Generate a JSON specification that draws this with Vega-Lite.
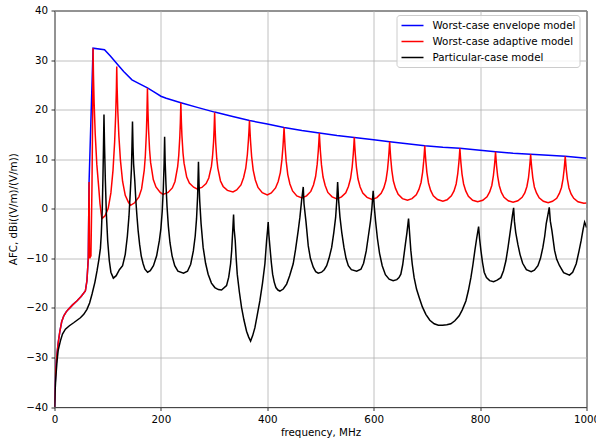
{
  "$schema": "https://vega.github.io/schema/vega-lite/v6.json",
  "autosize": {"type": "none"},
  "width": 532,
  "height": 396.5,
  "padding": {"left": 54.5, "top": 10.5, "right": 9, "bottom": 34},
  "background": "white",
  "config": {
    "font": "DejaVu Sans",
    "view": {"stroke": "black", "strokeWidth": 1},
    "axis": {
      "labelFont": "DejaVu Sans", "titleFont": "DejaVu Sans",
      "labelFontSize": 10.3, "titleFontSize": 10.3,
      "labelColor": "black", "titleColor": "black", "titleFontWeight": "normal",
      "tickColor": "black", "tickSize": 3.5, "tickWidth": 0.8,
      "domain": false, "grid": true, "gridColor": "#b0b0b0", "gridWidth": 0.8,
      "labelPadding": 3.5, "labelFlush": false, "labelOverlap": false
    },
    "legend": {"labelFont": "DejaVu Sans", "labelFontSize": 10.3, "labelColor": "black"}
  },
  "datasets": {
    "envelope": [
      {"f":0,"v":-40},{"f":1,"v":-36},{"f":2.5,"v":-32.5},{"f":4.5,"v":-29.5},{"f":7,"v":-27},{"f":10,"v":-24.8},{"f":13.5,"v":-22.8},{"f":17.5,"v":-21.6},{"f":22,"v":-20.8},{"f":27,"v":-20.2},{"f":34,"v":-19.4},{"f":42,"v":-18.6},{"f":50,"v":-17.7},{"f":58,"v":-16.6},{"f":61,"v":-14.5},{"f":63.5,"v":-10},{"f":65,"v":5.4},{"f":72.5,"v":32.4},{"f":94,"v":32.1},{"f":105,"v":30.8},{"f":117,"v":29.3},{"f":130,"v":27.7},{"f":145.6,"v":26.0},{"f":160,"v":25.2},{"f":174.7,"v":24.4},{"f":190,"v":23.4},{"f":200,"v":22.7},{"f":210,"v":22.3},{"f":237.5,"v":21.4},{"f":270,"v":20.4},{"f":301,"v":19.5},{"f":335,"v":18.6},{"f":366.5,"v":17.8},{"f":400,"v":17.1},{"f":431.5,"v":16.4},{"f":465,"v":15.8},{"f":497.8,"v":15.3},{"f":531,"v":14.8},{"f":563.5,"v":14.4},{"f":600,"v":13.9},{"f":630,"v":13.5},{"f":663,"v":13.1},{"f":696,"v":12.7},{"f":730,"v":12.4},{"f":762,"v":12.2},{"f":800,"v":11.8},{"f":829,"v":11.5},{"f":862,"v":11.2},{"f":895,"v":11.0},{"f":928,"v":10.8},{"f":960,"v":10.6},{"f":1000,"v":10.2}
    ],
    "adaptive": [
      {"f":0,"v":-40},{"f":1,"v":-36},{"f":2.5,"v":-32.5},{"f":4.5,"v":-29.5},{"f":7,"v":-27},{"f":10,"v":-24.8},{"f":13.5,"v":-22.8},{"f":17.5,"v":-21.6},{"f":22,"v":-20.8},{"f":27,"v":-20.2},{"f":34,"v":-19.4},{"f":42,"v":-18.6},{"f":50,"v":-17.7},{"f":58,"v":-16.6},{"f":61,"v":-14.5},{"f":63.5,"v":-10},{"f":65,"v":5.4},{"f":66,"v":-10},{"f":68.5,"v":-9.5},{"f":70.5,"v":5},{"f":71.8,"v":20},{"f":72.5,"v":32.4},
      {"f":73.2,"v":27.2},{"f":74.5,"v":21.4},{"f":76.5,"v":15.2},{"f":79.5,"v":9.0},{"f":83.5,"v":3.8},{"f":85.5,"v":1.0},{"f":89,"v":-2.0},
      {"f":95,"v":-1.4},{"f":101,"v":0.1},{"f":106,"v":3.2},{"f":110,"v":7.8},{"f":113,"v":13.4},{"f":115,"v":18.9},{"f":116.3,"v":24.1},{"f":117,"v":28.7},
      {"f":117.7,"v":24.5},{"f":119,"v":19.7},{"f":121,"v":14.7},{"f":124,"v":9.7},{"f":128,"v":5.5},{"f":133,"v":2.7},{"f":139,"v":1.3},{"f":143,"v":0.7},
      {"f":150.7,"v":1.2},{"f":158.7,"v":2.4},{"f":163.7,"v":4.0},{"f":168.7,"v":7.8},{"f":170.7,"v":10.6},{"f":172.7,"v":15.3},{"f":173.7,"v":19.1},{"f":174.7,"v":24.3},
      {"f":175.7,"v":19.6},{"f":176.7,"v":16.2},{"f":178.7,"v":11.9},{"f":180.7,"v":9.3},{"f":185.7,"v":5.9},{"f":190.7,"v":4.4},{"f":198.7,"v":3.3},{"f":204,"v":2.9},
      {"f":213.5,"v":3.3},{"f":221.5,"v":4.2},{"f":226.5,"v":5.5},{"f":231.5,"v":8.5},{"f":233.5,"v":10.7},{"f":235.5,"v":14.4},{"f":236.5,"v":17.3},{"f":237.5,"v":21.4},
      {"f":238.5,"v":17.6},{"f":239.5,"v":14.8},{"f":241.5,"v":11.3},{"f":243.5,"v":9.2},{"f":248.5,"v":6.4},{"f":253.5,"v":5.2},{"f":261.5,"v":4.35},{"f":268,"v":4.0},
      {"f":277,"v":4.3},{"f":285,"v":5.1},{"f":290,"v":6.2},{"f":295,"v":8.6},{"f":297,"v":10.5},{"f":299,"v":13.5},{"f":300,"v":16.0},{"f":301,"v":19.4},
      {"f":302,"v":15.9},{"f":303,"v":13.3},{"f":305,"v":10.1},{"f":307,"v":8.2},{"f":312,"v":5.6},{"f":317,"v":4.5},{"f":325,"v":3.7},{"f":335.5,"v":3.4},
      {"f":342.5,"v":3.8},{"f":350.5,"v":4.8},{"f":355.5,"v":6.3},{"f":359.5,"v":8.2},{"f":362.5,"v":10.9},{"f":364.5,"v":13.8},{"f":365.5,"v":15.6},{"f":366.5,"v":17.8},
      {"f":367.5,"v":15.6},{"f":368.5,"v":13.6},{"f":370.5,"v":10.6},{"f":373.5,"v":7.8},{"f":377.5,"v":5.8},{"f":382.5,"v":4.3},{"f":390.5,"v":3.25},{"f":400,"v":2.8},
      {"f":407.5,"v":3.2},{"f":415.5,"v":4.2},{"f":420.5,"v":5.5},{"f":424.5,"v":7.3},{"f":427.5,"v":9.9},{"f":429.5,"v":12.6},{"f":430.5,"v":14.4},{"f":431.5,"v":16.4},
      {"f":432.5,"v":14.3},{"f":433.5,"v":12.4},{"f":435.5,"v":9.6},{"f":438.5,"v":6.9},{"f":442.5,"v":5.0},{"f":447.5,"v":3.6},{"f":455.5,"v":2.6},{"f":465,"v":2.2},
      {"f":473.8,"v":2.6},{"f":481.8,"v":3.5},{"f":486.8,"v":4.8},{"f":490.8,"v":6.5},{"f":493.8,"v":9.0},{"f":495.8,"v":11.6},{"f":496.8,"v":13.3},{"f":497.8,"v":15.3},
      {"f":498.8,"v":13.3},{"f":499.8,"v":11.6},{"f":501.8,"v":8.9},{"f":504.8,"v":6.4},{"f":508.8,"v":4.7},{"f":513.8,"v":3.3},{"f":521.8,"v":2.4},{"f":531,"v":2.0},
      {"f":539.5,"v":2.4},{"f":547.5,"v":3.2},{"f":552.5,"v":4.5},{"f":556.5,"v":6.1},{"f":559.5,"v":8.4},{"f":561.5,"v":10.9},{"f":562.5,"v":12.5},{"f":563.5,"v":14.4},
      {"f":564.5,"v":12.5},{"f":565.5,"v":10.9},{"f":567.5,"v":8.4},{"f":570.5,"v":6.0},{"f":574.5,"v":4.4},{"f":579.5,"v":3.15},{"f":587.5,"v":2.3},{"f":597,"v":1.9},
      {"f":606,"v":2.25},{"f":614,"v":3.1},{"f":619,"v":4.2},{"f":623,"v":5.7},{"f":626,"v":7.9},{"f":628,"v":10.3},{"f":629,"v":11.8},{"f":630,"v":13.5},
      {"f":631,"v":11.7},{"f":632,"v":10.2},{"f":634,"v":7.8},{"f":637,"v":5.6},{"f":641,"v":4.1},{"f":646,"v":2.9},{"f":654,"v":2.05},{"f":663.5,"v":1.7},
      {"f":672,"v":2.05},{"f":680,"v":2.8},{"f":685,"v":3.9},{"f":689,"v":5.3},{"f":692,"v":7.4},{"f":694,"v":9.6},{"f":695,"v":11.05},{"f":696,"v":12.7},
      {"f":697,"v":11.0},{"f":698,"v":9.6},{"f":700,"v":7.3},{"f":703,"v":5.2},{"f":707,"v":3.7},{"f":712,"v":2.6},{"f":720,"v":1.85},{"f":730,"v":1.5},
      {"f":738,"v":1.8},{"f":746,"v":2.6},{"f":751,"v":3.6},{"f":755,"v":5.0},{"f":758,"v":7.1},{"f":760,"v":9.2},{"f":761,"v":10.6},{"f":762,"v":12.2},
      {"f":763,"v":10.6},{"f":764,"v":9.2},{"f":766,"v":7.0},{"f":769,"v":5.0},{"f":773,"v":3.6},{"f":778,"v":2.5},{"f":786,"v":1.7},{"f":795.5,"v":1.4},
      {"f":805,"v":1.7},{"f":813,"v":2.4},{"f":818,"v":3.4},{"f":822,"v":4.7},{"f":825,"v":6.7},{"f":827,"v":8.7},{"f":828,"v":10.0},{"f":829,"v":11.5},
      {"f":830,"v":10.0},{"f":831,"v":8.6},{"f":833,"v":6.6},{"f":836,"v":4.7},{"f":840,"v":3.3},{"f":845,"v":2.3},{"f":853,"v":1.6},{"f":862,"v":1.3},
      {"f":871,"v":1.6},{"f":879,"v":2.3},{"f":884,"v":3.2},{"f":888,"v":4.5},{"f":891,"v":6.3},{"f":893,"v":8.3},{"f":894,"v":9.5},{"f":895,"v":11.0},
      {"f":896,"v":9.5},{"f":897,"v":8.3},{"f":899,"v":6.3},{"f":902,"v":4.4},{"f":906,"v":3.2},{"f":911,"v":2.2},{"f":919,"v":1.5},{"f":928,"v":1.2},
      {"f":936,"v":1.5},{"f":944,"v":2.1},{"f":949,"v":3.1},{"f":953,"v":4.3},{"f":956,"v":6.1},{"f":958,"v":8.0},{"f":959,"v":9.2},{"f":960,"v":10.6},
      {"f":961,"v":9.2},{"f":962,"v":7.9},{"f":964,"v":6.0},{"f":967,"v":4.2},{"f":971,"v":3.0},{"f":976,"v":2.1},{"f":984,"v":1.4},{"f":995,"v":1.1},{"f":1000,"v":1.15}
    ],
    "particular": [
      {"f":0,"v":-40},{"f":1,"v":-37},{"f":2.5,"v":-34},{"f":4.8,"v":-30.7},{"f":7,"v":-28.5},{"f":11,"v":-26.7},{"f":15,"v":-25.3},{"f":20.5,"v":-24.3},{"f":28,"v":-23.6},{"f":36,"v":-23},{"f":48.7,"v":-22},{"f":55,"v":-21.3},{"f":61,"v":-20.3},{"f":66,"v":-19},{"f":70.6,"v":-17.2},{"f":76,"v":-14.8},{"f":80,"v":-12.5},{"f":83.5,"v":-10.2},{"f":86.3,"v":-8},{"f":88,"v":-5},{"f":89.8,"v":0},{"f":91,"v":6},{"f":92,"v":12},{"f":93,"v":19.0},
      {"f":94,"v":13},{"f":95.5,"v":6},{"f":97.5,"v":-1},{"f":100,"v":-6.5},{"f":103,"v":-10.5},{"f":106,"v":-12.8},{"f":110.6,"v":-14},
      {"f":116,"v":-13.5},{"f":122,"v":-12.3},{"f":128,"v":-11.5},{"f":133,"v":-9.2},{"f":137,"v":-5.5},{"f":140,"v":-1.5},{"f":142.6,"v":3.6},{"f":144.6,"v":8},{"f":145.6,"v":12.5},{"f":146.6,"v":17.6},
      {"f":147.6,"v":12.5},{"f":148.7,"v":9},{"f":150.9,"v":5.7},{"f":153,"v":1.5},{"f":155,"v":-1.5},{"f":157.2,"v":-4.4},{"f":160,"v":-7.2},{"f":163,"v":-9.5},{"f":166.6,"v":-11.1},{"f":170,"v":-12.2},{"f":175,"v":-12.8},
      {"f":180,"v":-12.5},{"f":186,"v":-11.5},{"f":192,"v":-9.5},{"f":197,"v":-6.5},{"f":200,"v":-4},{"f":202.5,"v":-0.5},{"f":204.5,"v":4},{"f":206,"v":9},{"f":207,"v":14.5},
      {"f":208,"v":9.5},{"f":209.5,"v":5},{"f":211.5,"v":0.5},{"f":214,"v":-3.5},{"f":217,"v":-6.8},{"f":221,"v":-9.5},{"f":226,"v":-11.5},{"f":232,"v":-12.6},{"f":242.5,"v":-13},
      {"f":250,"v":-12.6},{"f":256,"v":-11.2},{"f":261,"v":-8.5},{"f":264.5,"v":-5.5},{"f":267,"v":-2},{"f":269,"v":2.5},{"f":270.6,"v":9.5},
      {"f":271.7,"v":5},{"f":273,"v":1.5},{"f":275.5,"v":-3},{"f":279.4,"v":-7.8},{"f":284,"v":-11},{"f":288.8,"v":-13.2},{"f":295,"v":-15},{"f":301.4,"v":-15.9},{"f":308,"v":-16.3},{"f":314,"v":-16.4},
      {"f":323.4,"v":-15.5},{"f":327.5,"v":-13.8},{"f":331,"v":-11.1},{"f":333,"v":-8.5},{"f":334,"v":-6.4},{"f":335.5,"v":-3.5},{"f":336.6,"v":-1.15},
      {"f":337.6,"v":-4},{"f":339.7,"v":-6.4},{"f":341.5,"v":-10},{"f":343.5,"v":-13.2},{"f":347.5,"v":-16.8},{"f":351.6,"v":-19.9},{"f":356,"v":-22.4},{"f":361,"v":-24.7},{"f":365,"v":-25.9},{"f":368.6,"v":-26.7},
      {"f":372.5,"v":-25.6},{"f":376.7,"v":-24},{"f":381,"v":-21.5},{"f":386,"v":-18.6},{"f":391,"v":-15},{"f":395.5,"v":-11.1},{"f":398.7,"v":-6.4},{"f":400.5,"v":-4.3},{"f":401.7,"v":-2.7},
      {"f":403,"v":-5.3},{"f":405,"v":-7.8},{"f":407.5,"v":-10.8},{"f":410,"v":-13.2},{"f":413,"v":-14.8},{"f":416.2,"v":-15.9},{"f":420,"v":-16.4},{"f":423.7,"v":-16.6},
      {"f":430,"v":-16.2},{"f":436.3,"v":-15.2},{"f":442,"v":-13.5},{"f":448.7,"v":-11.1},{"f":453,"v":-8.3},{"f":458.1,"v":-4.4},{"f":461.3,"v":-1.7},{"f":464.5,"v":1.7},{"f":467.6,"v":4.4},
      {"f":469,"v":1},{"f":472.6,"v":-2.5},{"f":477,"v":-7.5},{"f":481,"v":-10},{"f":486.4,"v":-11.8},{"f":491,"v":-12.7},{"f":495.8,"v":-13},
      {"f":502,"v":-12.8},{"f":507,"v":-12.3},{"f":511.6,"v":-11.5},{"f":516,"v":-10},{"f":521,"v":-7.8},{"f":525,"v":-4.8},{"f":528.5,"v":-1.7},{"f":530.5,"v":1.5},{"f":532.2,"v":5.4},
      {"f":534,"v":1.8},{"f":536.6,"v":-1.7},{"f":540,"v":-4.8},{"f":544.1,"v":-7.8},{"f":548,"v":-10},{"f":552.3,"v":-11.5},{"f":558,"v":-12.3},{"f":568,"v":-12.6},
      {"f":576,"v":-12.2},{"f":581,"v":-11},{"f":586,"v":-8.5},{"f":590,"v":-5.5},{"f":594,"v":-2.5},{"f":596.5,"v":0},{"f":599,"v":3.6},
      {"f":601,"v":0.5},{"f":603.5,"v":-2.5},{"f":607,"v":-6},{"f":611,"v":-9},{"f":616,"v":-11.5},{"f":622,"v":-13.3},{"f":629,"v":-14.2},{"f":636.6,"v":-14.5},
      {"f":643.5,"v":-14.3},{"f":647.5,"v":-13.9},{"f":651,"v":-13.2},{"f":654.5,"v":-11.3},{"f":657.2,"v":-9.1},{"f":660,"v":-6.8},{"f":662.5,"v":-4.8},{"f":665.5,"v":-2.0},
      {"f":667.5,"v":-5},{"f":669.8,"v":-8.4},{"f":672.5,"v":-11.2},{"f":676,"v":-13.9},{"f":680.5,"v":-16.2},{"f":685.5,"v":-17.9},{"f":691.5,"v":-19.8},{"f":698,"v":-21.3},{"f":705.5,"v":-22.5},{"f":713.7,"v":-23.2},{"f":721.5,"v":-23.5},{"f":729.5,"v":-23.5},{"f":737.5,"v":-23.4},{"f":745,"v":-23.2},{"f":752.5,"v":-22.6},{"f":760.7,"v":-21.6},{"f":766.5,"v":-20.4},{"f":773.3,"v":-18.6},{"f":778,"v":-16.5},{"f":782.7,"v":-13.9},{"f":786.5,"v":-11.3},{"f":790.2,"v":-8.4},{"f":793.5,"v":-6},{"f":797.2,"v":-3.6},
      {"f":799,"v":-6},{"f":801.5,"v":-8.4},{"f":804.5,"v":-10.8},{"f":807.7,"v":-12.8},{"f":812,"v":-13.9},{"f":818,"v":-14.5},{"f":825.4,"v":-14.7},
      {"f":832,"v":-14.4},{"f":839,"v":-13.9},{"f":844,"v":-12.5},{"f":848.5,"v":-10.5},{"f":852.5,"v":-7.8},{"f":856,"v":-5.1},{"f":859,"v":-2.8},{"f":861,"v":-1.2},{"f":863,"v":0.2},
      {"f":864.5,"v":-2.5},{"f":867,"v":-4.8},{"f":871,"v":-7.2},{"f":875,"v":-9.2},{"f":880,"v":-11},{"f":887,"v":-12.3},{"f":896,"v":-12.7},
      {"f":902,"v":-12.4},{"f":908.7,"v":-11.5},{"f":913.5,"v":-10},{"f":918,"v":-7.8},{"f":921.5,"v":-5.5},{"f":924.3,"v":-3.0},{"f":927,"v":-1.5},{"f":930,"v":0.3},
      {"f":932,"v":-2.5},{"f":935,"v":-4.4},{"f":940,"v":-8.4},{"f":944,"v":-10.2},{"f":949.3,"v":-11.5},{"f":957,"v":-12.9},{"f":968,"v":-13.4},
      {"f":974,"v":-12.8},{"f":980.7,"v":-11.1},{"f":986,"v":-8.5},{"f":990,"v":-6.4},{"f":993.5,"v":-4.2},{"f":996.4,"v":-2.7},{"f":998.5,"v":-3.3},{"f":1000,"v":-3.8}
    ]
  },
  "encoding": {
    "x": {"field": "f", "type": "quantitative", "title": "frequency, MHz",
          "scale": {"domain": [0, 1000], "nice": false},
          "axis": {"values": [0, 200, 400, 600, 800, 1000], "format": "d", "titlePadding": 3}},
    "y": {"field": "v", "type": "quantitative", "title": "AFC, dBi((V/m)/(V/m))",
          "scale": {"domain": [-40, 40], "nice": false},
          "axis": {"values": [-40, -30, -20, -10, 0, 10, 20, 30, 40], "titlePadding": 7}}
  },
  "layer": [
    {
      "data": {"name": "envelope"},
      "mark": {"type": "line", "strokeWidth": 1.5, "clip": true},
      "encoding": {
        "color": {"datum": "Worst-case envelope model", "type": "nominal",
          "scale": {"domain": ["Worst-case envelope model", "Worst-case adaptive model", "Particular-case model"], "range": ["#0000ff", "#ff0000", "#000000"]},
          "legend": {"orient": "none", "legendX": 342, "legendY": 4.5, "title": null,
            "symbolType": "M-1,0H3", "symbolSize": 121, "symbolStrokeWidth": 1.5, "symbolFillColor": "transparent",
            "padding": 4, "rowPadding": 4, "labelOffset": 19, "labelLimit": 300,
            "fillColor": "rgba(255,255,255,0.8)", "strokeColor": "#cccccc", "cornerRadius": 3}}
      }
    },
    {
      "data": {"name": "adaptive"},
      "mark": {"type": "line", "strokeWidth": 1.5, "clip": true},
      "encoding": {"color": {"datum": "Worst-case adaptive model", "type": "nominal"}}
    },
    {
      "data": {"name": "particular"},
      "mark": {"type": "line", "strokeWidth": 1.5, "clip": true},
      "encoding": {"color": {"datum": "Particular-case model", "type": "nominal"}}
    }
  ]
}
